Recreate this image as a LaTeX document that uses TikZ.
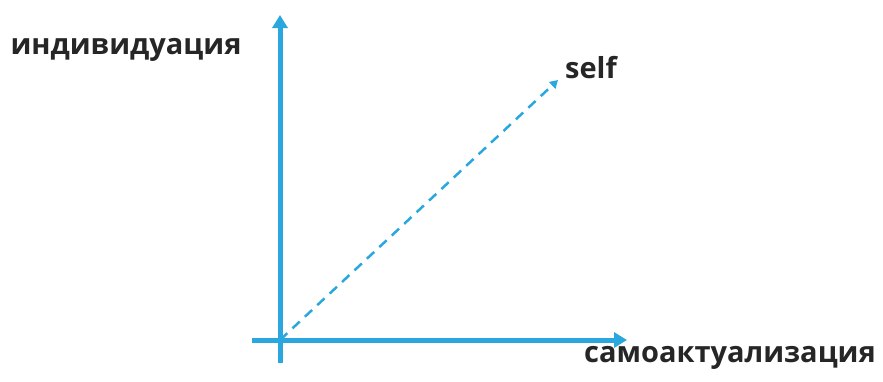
\documentclass[tikz,border=0pt]{standalone}
\usepackage{fontspec}
\setmainfont{Open Sans}
\usepackage{xcolor}
\usetikzlibrary{arrows.meta}
\definecolor{axisblue}{HTML}{2AA7DF}

\begin{document}
\begin{tikzpicture}[
  x=1pt, y=-1pt,
  every node/.style={align=center, inner sep=0pt},
  axis/.style={line width=5pt, axisblue, -{Triangle[width=15pt, length=13pt]}},
  trend/.style={line width=2.5pt, axisblue, dash pattern=on 10pt off 7pt, -{Triangle[width=9pt, length=8pt]}},
  lbl/.style={font=\bfseries\fontsize{29}{34}\selectfont, text=black!85},
]
\useasboundingbox (0,0) rectangle (883,381);
% axes
\coordinate (origin) at (280,340);
\coordinate (ytip) at (280,15);
\coordinate (ybot) at (280,363);
\coordinate (xtip) at (627,340);
\coordinate (xleft) at (252,340);
\coordinate (selfpt) at (558,80);
\draw[axis] (ybot) -- (ytip);
\draw[axis] (xleft) -- (xtip);
% self direction
\draw[trend] (origin) -- (selfpt);
% labels
\node[lbl] (indiv) at (126,50) {индивидуация};
\node[lbl] (self) at (591,68) {self};
\node[lbl] (actual) at (730,358) {самоактуализация};
\end{tikzpicture}
\end{document}
